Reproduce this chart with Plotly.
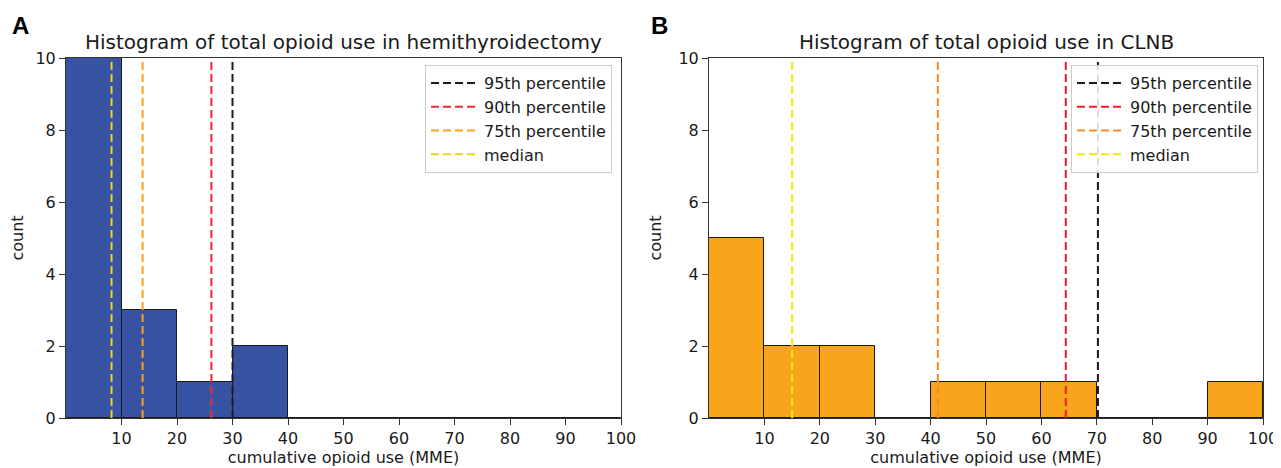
import plotly.graph_objects as go

# ---- data ----
bin_centers = [5, 15, 25, 35, 45, 55, 65, 75, 85, 95]
bin_width = 10
hemi_counts = [12, 3, 1, 2, 0, 0, 0, 0, 0, 0]
clnb_counts = [5, 2, 2, 0, 1, 1, 1, 0, 0, 1]

line_names = ["95th percentile", "90th percentile", "75th percentile", "median"]
hemi_percentiles = [30.0, 26.2, 13.8, 8.2]
clnb_percentiles = [70.2, 64.4, 41.3, 15.0]

hemi_line_colors = ["#1a1a1a", "#EE2A35", "#F7A21B", "#E8D51F"]
clnb_line_colors = ["#1a1a1a", "#EE1C25", "#F78A22", "#F2E80C"]

x_ticks = [10, 20, 30, 40, 50, 60, 70, 80, 90, 100]
y_ticks = [0, 2, 4, 6, 8, 10]

titles = ["Histogram of total opioid use in hemithyroidectomy",
          "Histogram of total opioid use in CLNB"]
panel_letters = ["A", "B"]

# page body has an 8px margin, so the figure is 8px smaller and shifted
OFF = 8
W, H = 1281 - OFF, 468 - OFF
FONT = "DejaVu Sans"
TXT = "#1a1a1a"


def px_x(p):
    return (p - OFF) / W


def px_y(p):
    return 1 - (p - OFF) / H


fig = go.Figure()

# bars
fig.add_trace(go.Bar(x=bin_centers, y=hemi_counts, width=bin_width,
                     marker=dict(color="#3953A4", line=dict(color="#1a1a1a", width=1)),
                     showlegend=False, xaxis="x", yaxis="y"))
fig.add_trace(go.Bar(x=bin_centers, y=clnb_counts, width=bin_width,
                     marker=dict(color="#F8A51D", line=dict(color="#1a1a1a", width=1)),
                     showlegend=False, xaxis="x2", yaxis="y2"))

# percentile lines
for i, (name, v, c) in enumerate(zip(line_names, hemi_percentiles, hemi_line_colors)):
    fig.add_trace(go.Scatter(x=[v, v], y=[0, 10], mode="lines", name=name,
                             line=dict(color=c, width=2, dash="8px,4px"),
                             legendgroup="a%d" % i,
                             xaxis="x", yaxis="y", legend="legend"))
for i, (name, v, c) in enumerate(zip(line_names, clnb_percentiles, clnb_line_colors)):
    fig.add_trace(go.Scatter(x=[v, v], y=[0, 10], mode="lines", name=name,
                             line=dict(color=c, width=2, dash="8px,4px"),
                             legendgroup="b%d" % i,
                             xaxis="x2", yaxis="y2", legend="legend2"))

ydom = [px_y(418), px_y(58)]
xdom1 = [px_x(66), px_x(621)]
xdom2 = [px_x(709), px_x(1263)]

axis_common = dict(showline=True, linecolor="#333", linewidth=1, mirror=True,
                   ticks="outside", ticklen=6, tickcolor="#333", tickwidth=1,
                   showgrid=False, zeroline=False, automargin=False,
                   tickfont=dict(family=FONT, size=16, color=TXT))

xa = dict(axis_common, range=[0, 100], tickvals=x_ticks,
          title=dict(text="cumulative opioid use (MME)", standoff=3,
                     font=dict(family=FONT, size=16, color=TXT)))
ya = dict(axis_common, range=[0, 10], tickvals=y_ticks,
          title=dict(text="count", standoff=12,
                     font=dict(family=FONT, size=16, color=TXT)))

legend_common = dict(bgcolor="rgba(255,255,255,0.85)", bordercolor="#cccccc",
                     borderwidth=1, font=dict(family=FONT, size=16, color=TXT),
                     xanchor="right", yanchor="top", tracegroupgap=0,
                     itemwidth=48)

fig.update_layout(
    width=W, height=H,
    margin=dict(l=0, r=0, t=0, b=0),
    paper_bgcolor="white", plot_bgcolor="white",
    bargap=0,
    xaxis=dict(xa, domain=xdom1, anchor="y"),
    yaxis=dict(ya, domain=ydom, anchor="x"),
    xaxis2=dict(xa, domain=xdom2, anchor="y2"),
    yaxis2=dict(ya, domain=ydom, anchor="x2"),
    legend=dict(legend_common, x=px_x(612), y=px_y(65)),
    legend2=dict(legend_common, x=px_x(1258), y=px_y(65)),
    font=dict(family=FONT, color=TXT),
)

annotations = []
for t, (x0, x1) in zip(titles, [xdom1, xdom2]):
    annotations.append(dict(text=t, x=(x0 + x1) / 2, y=px_y(42), xref="paper", yref="paper",
                            showarrow=False, xanchor="center", yanchor="middle",
                            font=dict(family=FONT, size=20, color=TXT)))
for letter, px in zip(panel_letters, [20, 660]):
    annotations.append(dict(text="<b>" + letter + "</b>", x=px_x(px), y=px_y(25),
                            xref="paper", yref="paper", showarrow=False,
                            xanchor="center", yanchor="middle",
                            font=dict(family="Liberation Sans", size=24, color="black")))
fig.update_layout(annotations=annotations)

fig.write_html("out.html")
